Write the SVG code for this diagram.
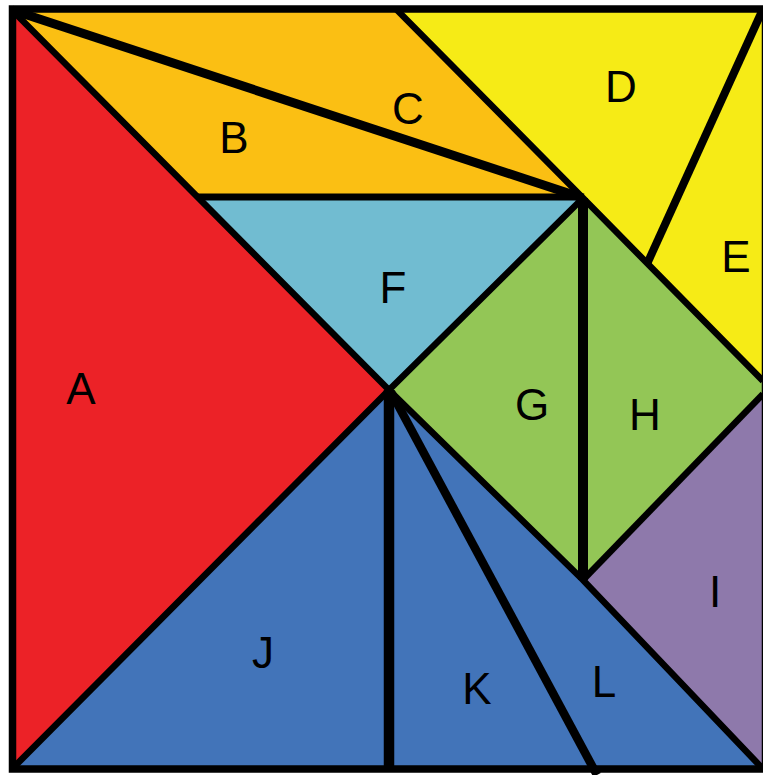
<svg xmlns="http://www.w3.org/2000/svg" width="763" height="775" viewBox="0 0 763 775">
<style>
.lbl{font-family:"Liberation Sans",Arial,sans-serif;font-size:44px;fill:#000;text-anchor:middle}
.ln{fill:none;stroke:#000;stroke-linecap:butt;stroke-linejoin:miter}
</style>
<rect x="0" y="0" width="763" height="775" fill="#fff"/>
<g id="A"><polygon points="12,10 389,390 12,769" fill="#EC2227"/><text class="lbl" x="81" y="404">A</text></g>
<g id="B"><polygon points="12,10 583,198 197,197" fill="#FBBF13"/><text class="lbl" x="234" y="153">B</text></g>
<g id="C"><polygon points="12,10 396,9 583,198" fill="#FBBF13"/><text class="lbl" x="408" y="124">C</text></g>
<g id="D"><polygon points="396,9 763,9 647,264 583,198" fill="#F6EB16"/><text class="lbl" x="621" y="102">D</text></g>
<g id="E"><polygon points="763,9 763,381 647,264" fill="#F6EB16"/><text class="lbl" x="736" y="272">E</text></g>
<g id="F"><polygon points="197,197 583,197 389,390" fill="#71BCD1"/><text class="lbl" x="393" y="303">F</text></g>
<g id="G"><polygon points="583,198 583,580 389,390" fill="#93C656"/><text class="lbl" x="532" y="420">G</text></g>
<g id="H"><polygon points="583,198 763,381 763,394 583,580" fill="#93C656"/><text class="lbl" x="645" y="430">H</text></g>
<g id="I"><polygon points="763,394 763,769 583,580" fill="#8E79AB"/><text class="lbl" x="715" y="607">I</text></g>
<g id="J"><polygon points="12,769 389,390 389,769" fill="#4274B9"/><text class="lbl" x="263" y="668">J</text></g>
<g id="K"><polygon points="389,390 389,769 597,769" fill="#4274B9"/><text class="lbl" x="477" y="704">K</text></g>
<g id="L"><polygon points="389,390 597,769 763,769 583,580" fill="#4274B9"/><text class="lbl" x="604" y="697">L</text></g>
<g id="connectors">
<polyline class="ln" stroke-width="6.5" points="12,10 389,390 583,580 763,769"/>
<polyline class="ln" stroke-width="6.5" points="12,769 389,390 583,198"/>
<line class="ln" stroke-width="9" x1="12" y1="10" x2="583" y2="198"/>
<line class="ln" stroke-width="7" x1="197" y1="197" x2="583" y2="197"/>
<polyline class="ln" stroke-width="6.5" points="396,9 583,198 763,381"/>
<line class="ln" stroke-width="8" x1="763" y1="9" x2="647" y2="264"/>
<line class="ln" stroke-width="6.5" x1="763" y1="394" x2="583" y2="580"/>
<line class="ln" stroke-width="10" x1="583" y1="198" x2="583" y2="580"/>
<line class="ln" stroke-width="10.5" x1="389" y1="390" x2="389" y2="769"/>
<line class="ln" stroke-width="8.5" x1="391" y1="392" x2="597" y2="775"/>
<rect class="ln" stroke-width="7.5" x="12.5" y="9" width="753" height="760"/>
</g>
</svg>
